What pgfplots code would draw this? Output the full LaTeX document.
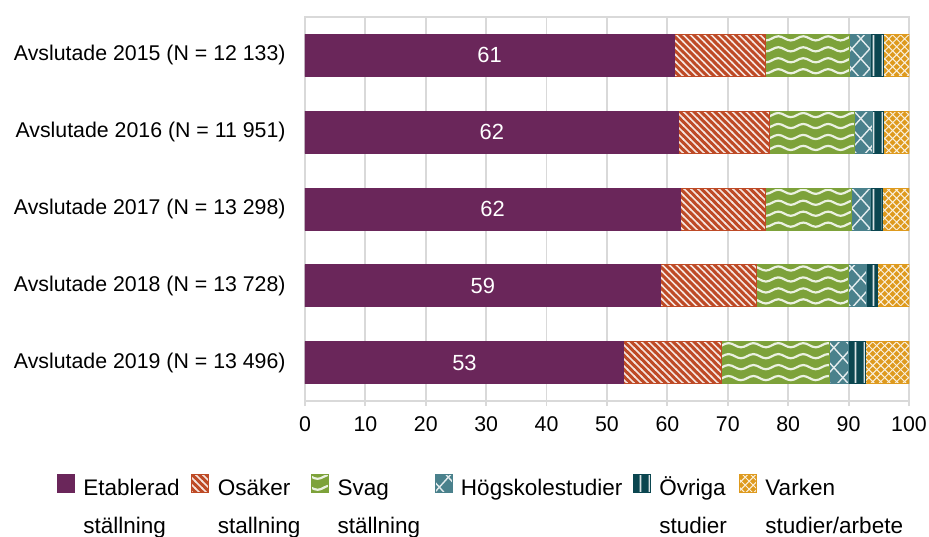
\documentclass[border=0pt]{standalone}
\usepackage{pgfplots}
\pgfplotsset{compat=1.18}
\usepackage{pgfplotstable}
\usepackage{fontspec}
\setmainfont{Liberation Sans}
\usetikzlibrary{patterns}

\definecolor{cEtab}{RGB}{106,38,90}
\definecolor{cOsak}{RGB}{190,74,38}
\definecolor{cSvag}{RGB}{125,162,58}
\definecolor{cHog}{RGB}{74,129,140}
\definecolor{cOvr}{RGB}{11,70,80}
\definecolor{cVark}{RGB}{222,154,30}
\definecolor{cGrid}{RGB}{217,217,217}

% diagonal "\" lines
\pgfdeclarepatternformonly{pOsak}{\pgfqpoint{-0.5pt}{-0.5pt}}{\pgfqpoint{4pt}{4pt}}{\pgfqpoint{3.5pt}{3.5pt}}{%
  \pgfsetlinewidth{0.8pt}%
  \pgfpathmoveto{\pgfqpoint{-0.5pt}{4pt}}%
  \pgfpathlineto{\pgfqpoint{4pt}{-0.5pt}}%
  \pgfusepath{stroke}}
% waves
\pgfdeclarepatternformonly{pSvag}{\pgfqpoint{-0.5pt}{0pt}}{\pgfqpoint{13pt}{5.5pt}}{\pgfqpoint{12.5pt}{5.5pt}}{%
  \pgfsetlinewidth{1.1pt}\pgfsetroundcap
  \pgfpathmoveto{\pgfqpoint{0pt}{2.75pt}}%
  \pgfpathsine{\pgfqpoint{3.125pt}{1.05pt}}%
  \pgfpathcosine{\pgfqpoint{3.125pt}{-1.05pt}}%
  \pgfpathsine{\pgfqpoint{3.125pt}{-1.05pt}}%
  \pgfpathcosine{\pgfqpoint{3.125pt}{1.05pt}}%
  \pgfusepath{stroke}}
% big X lattice
\pgfdeclarepatternformonly{pHog}{\pgfqpoint{-0.5pt}{-0.5pt}}{\pgfqpoint{9.5pt}{10.5pt}}{\pgfqpoint{9pt}{10pt}}{%
  \pgfsetlinewidth{0.7pt}%
  \pgfpathmoveto{\pgfqpoint{0pt}{0pt}}\pgfpathlineto{\pgfqpoint{9pt}{10pt}}%
  \pgfpathmoveto{\pgfqpoint{0pt}{10pt}}\pgfpathlineto{\pgfqpoint{9pt}{0pt}}%
  \pgfusepath{stroke}}
% vertical lines
\pgfdeclarepatternformonly{pOvr}{\pgfqpoint{0pt}{0pt}}{\pgfqpoint{4.5pt}{1pt}}{\pgfqpoint{4.5pt}{1pt}}{%
  \pgfsetlinewidth{0.8pt}%
  \pgfpathmoveto{\pgfqpoint{2.25pt}{-0.5pt}}\pgfpathlineto{\pgfqpoint{2.25pt}{1.5pt}}%
  \pgfusepath{stroke}}
% small diamond lattice
\pgfdeclarepatternformonly{pVark}{\pgfqpoint{-0.5pt}{-0.5pt}}{\pgfqpoint{4.5pt}{4.5pt}}{\pgfqpoint{4pt}{4pt}}{%
  \pgfsetlinewidth{0.5pt}%
  \pgfpathmoveto{\pgfqpoint{0pt}{0pt}}\pgfpathlineto{\pgfqpoint{4pt}{4pt}}%
  \pgfpathmoveto{\pgfqpoint{0pt}{4pt}}\pgfpathlineto{\pgfqpoint{4pt}{0pt}}%
  \pgfusepath{stroke}}

\pgfplotstableread{
idx etab osak svag hog ovr vark
0   61.1 15.2 13.9 3.4 2.1 4.3
1   61.9 15.0 14.0 3.0 1.8 4.3
2   62.1 14.1 14.2 3.2 2.0 4.4
3   58.9 15.9 15.2 3.0 1.8 5.2
4   52.8 16.1 18.0 3.1 2.8 7.2
}\data

\newcommand{\lbl}[2]{\parbox[t]{#1}{\baselineskip=19bp #2}}

\begin{document}
\begin{tikzpicture}[font=\fontsize{10.7}{12.8}\selectfont]
\path[use as bounding box] (-152.5bp,-68bp) rectangle (312bp,200.5bp);
\begin{axis}[
  at={(0,0)}, anchor=south west,
  scale only axis, width=302bp, height=192bp,
  xbar stacked, bar width=21bp,
  xmin=0, xmax=100, xtick={0,10,...,100},
  ymin=-0.5, ymax=4.5, y dir=reverse,
  ytick={0,1,2,3,4},
  yticklabels={Avslutade 2015 (N = 12 133),Avslutade 2016 (N = 11 951),Avslutade 2017 (N = 13 298),Avslutade 2018 (N = 13 728),Avslutade 2019 (N = 13 496)},
  xmajorgrids, grid style={draw=cGrid, line width=0.9bp},
  axis line style={draw=cGrid, line width=0.9bp},
  tick align=outside, xtick pos=bottom, ytick pos=left,
  major tick length=2.5bp,
  xtick style={draw=cGrid, line width=0.9bp},
  ytick style={draw=none},
  /pgf/number format/assume math mode=true,
  tick label style={font=\fontsize{10.7}{12.8}\selectfont},
  yticklabel style={inner sep=0pt, anchor=east, xshift=-7bp},
  xticklabel style={inner sep=0pt, anchor=north, yshift=-5bp},
  legend columns=6,
  legend style={at={(0,0)}, anchor=north west, xshift=-124bp, yshift=-36.6bp,
    draw=none, fill=none, inner sep=0pt, outer sep=0pt,
    font=\fontsize{11.3}{13.5}\selectfont,
    nodes={inner sep=0pt, anchor=base west},
    /tikz/column sep=0pt,
    /tikz/every odd column/.append style={column sep=4.2bp}},
  legend image code/.code={\draw[#1] (0bp,1.65bp) rectangle (8.5bp,10.35bp);},
]
\addplot[fill=cEtab, draw=cEtab, line width=0.5bp,
  point meta=x,
  nodes near coords={\pgfmathprintnumber[fixed,precision=0]{\pgfplotspointmeta}},
  every node near coord/.append style={text=white, anchor=center, font=\fontsize{11}{13}\selectfont}]
  table[x=etab, y=idx]{\data};
\addlegendentry{\lbl{54bp}{Etablerad\\ställning}}
\addplot[fill=cOsak, draw=cOsak, line width=0.5bp, postaction={pattern=pOsak, pattern color=white!85!cOsak}]
  table[x=osak, y=idx]{\data};
\addlegendentry{\lbl{46.7bp}{Osäker\\stallning}}
\addplot[fill=cSvag, draw=cSvag, line width=0.5bp, postaction={pattern=pSvag, pattern color=white!85!cSvag}]
  table[x=svag, y=idx]{\data};
\addlegendentry{\lbl{48.5bp}{Svag\\ställning}}
\addplot[fill=cHog, draw=cHog, line width=0.5bp, postaction={pattern=pHog, pattern color=white!85!cHog}]
  table[x=hog, y=idx]{\data};
\addlegendentry{\lbl{86bp}{Högskolestudier}}
\addplot[fill=cOvr, draw=cOvr, line width=0.5bp, postaction={pattern=pOvr, pattern color=white!85!cOvr}]
  table[x=ovr, y=idx]{\data};
\addlegendentry{\lbl{39.8bp}{Övriga\\studier}}
\addplot[fill=cVark, draw=cVark, line width=0.5bp, postaction={pattern=pVark, pattern color=white!85!cVark}]
  table[x=vark, y=idx]{\data};
\addlegendentry{\lbl{71bp}{Varken\\studier/arbete}}
\end{axis}
\end{tikzpicture}
\end{document}
